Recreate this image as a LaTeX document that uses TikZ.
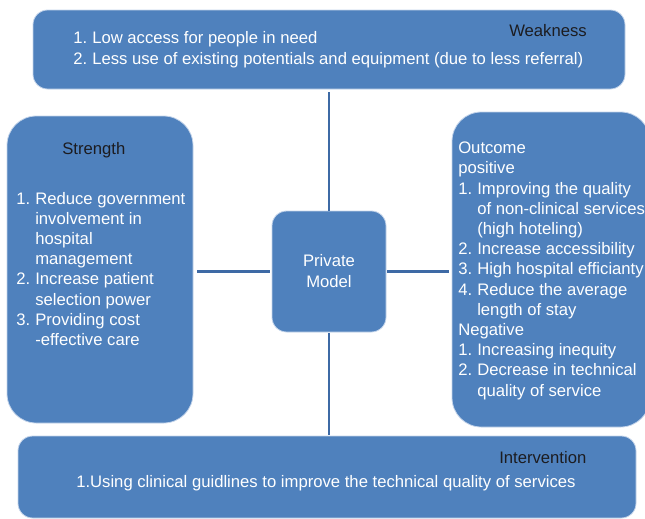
\documentclass[tikz,border=0pt]{standalone}
\usepackage{fontspec}
\setmainfont{Liberation Sans}
\definecolor{boxblue}{RGB}{79,129,189}
\definecolor{boxedge}{RGB}{196,212,234}
\definecolor{linkblue}{RGB}{62,106,165}
\definecolor{titledark}{RGB}{28,28,32}
\newcommand{\nr}[1]{\makebox[14.25pt][l]{#1}}
\newcommand{\ind}{\hspace*{14.25pt}}

\begin{document}
\begin{tikzpicture}[x=0.75pt, y=-0.75pt, line join = round,
  box/.style={draw=boxedge, line width=0.6pt, fill=boxblue, inner sep=0pt},
  link/.style={draw=linkblue, line width=2.2pt},
  txt/.style={text=white, inner sep=0pt, anchor=base west, align=left, font=\fontsize{12.5}{15.15}\selectfont},
  ttl/.style={text=titledark, inner sep=0pt, anchor=base west, font=\fontsize{12.5}{15}\selectfont}]
\useasboundingbox (0,0) rectangle (645,518);
\clip (0,0) rectangle (645,518);

% boxes
\node[box, rounded corners=11pt, minimum width=444pt, minimum height=59.25pt] (weak) at (329,49.5) {};
\node[box, rounded corners=22pt, minimum width=139.5pt, minimum height=230.25pt] (strength) at (100,269.5) {};
\node[box, rounded corners=11pt, minimum width=85.5pt, minimum height=90.75pt] (priv) at (329,271.5) {};
\node[box, rounded corners=22pt, minimum width=148.5pt, minimum height=236.25pt] (outcome) at (551,269.5) {};
\node[box, rounded corners=11pt, minimum width=463.5pt, minimum height=61.5pt] (inter) at (327,477) {};

% links from the model
\draw[link, shorten >=2.25pt] (priv.north) -- (priv.north |- weak.south);
\draw[link, shorten <=1.5pt, shorten >=3pt] (priv.west) -- (priv.west -| strength.east);
\draw[link, shorten <=0.75pt, shorten >=2.25pt] (priv.east) -- (priv.east -| outcome.west);
\draw[link, shorten <=0.75pt, shorten >=0.75pt] (priv.south) -- (priv.south |- inter.north);

% weakness (base = last line)
\node[ttl] (weakttl) at (509,36) {Weakness};
\node[txt, font=\fontsize{12.5}{15.75}\selectfont] (weaktxt) at (73,64) {\nr{1.}Low access for people in need\\
  \nr{2.}Less use of existing potentials and equipment (due to less referral)};

% strength
\node[ttl] (strttl) at (62,154) {Strength};
\node[txt] (strtxt) at (16,345.5) {\nr{1.}Reduce government\\
  \ind involvement in\\
  \ind hospital\\
  \ind management\\
  \nr{2.}Increase patient\\
  \ind selection power\\
  \nr{3.}Providing cost\\
  \ind -effective care};

% private model
\node[txt, anchor=base, align=center] (privtxt) at (329,287) {Private\\Model};

% outcome
\node[txt] (outtxt) at (458,396) {Outcome\\
  positive\\
  \nr{1.}Improving the quality\\
  \ind of non-clinical services\\
  \ind (high hoteling)\\
  \nr{2.}Increase accessibility\\
  \nr{3.}High hospital efficianty\\
  \nr{4.}Reduce the average\\
  \ind length of stay\\
  Negative\\
  \nr{1.}Increasing inequity\\
  \nr{2.}Decrease in technical\\
  \ind quality of service};

% intervention
\node[ttl] (interttl) at (499,463) {Intervention};
\node[txt] (intertxt) at (76,487) {1.Using clinical guidlines to improve the technical quality of services};

\end{tikzpicture}
\end{document}
